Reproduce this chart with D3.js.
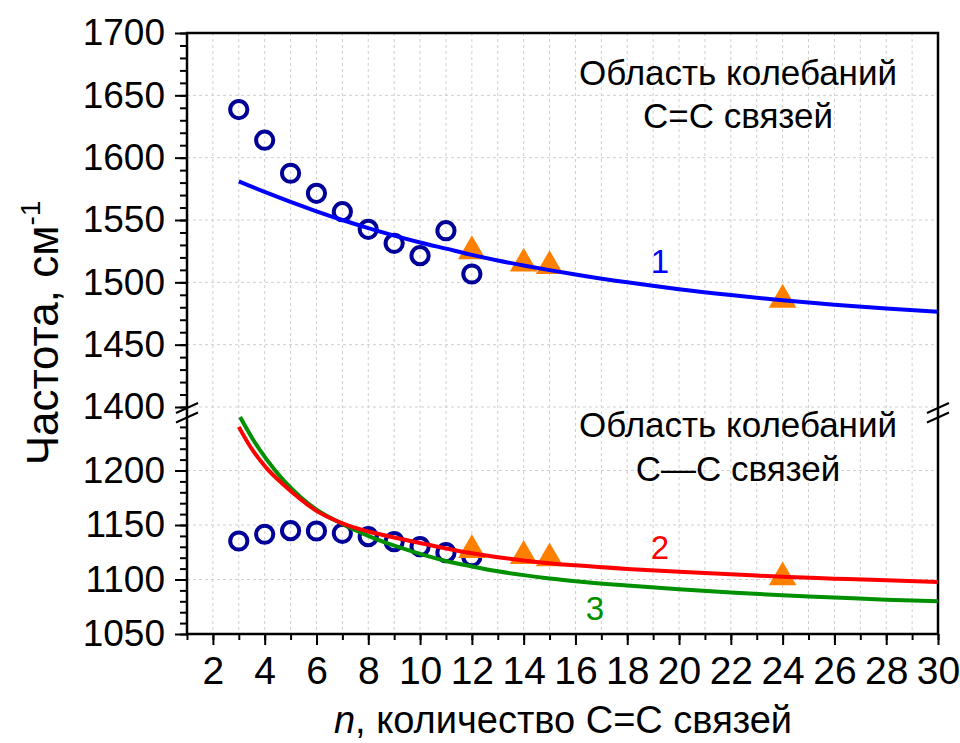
<!DOCTYPE html>
<html>
<head>
<meta charset="utf-8">
<script src="https://cdn.jsdelivr.net/npm/d3@7/dist/d3.min.js"></script>
<style>
  body { margin: 0; background: #fff; }
  svg text { font-family: "Liberation Sans", Arial, sans-serif; fill: #000; }
</style>
</head>
<body>
<svg id="chart" width="960" height="743"></svg>
<script>
'use strict';

// measured points: n = number of C=C bonds
var nObs = [3, 4, 5, 6, 7, 8, 9, 10, 11, 12];
var ccDoubleObs = [1638.6, 1614, 1587.5, 1571.4, 1556.7, 1542.5, 1531.3, 1521.4, 1541.4, 1506.7];
var ccSingleObs = [1135.3, 1141.5, 1144.8, 1144.5, 1142.4, 1139.3, 1134.7, 1130.1, 1124.6, 1120.9];

// reference points (triangles)
var nRef = [12, 14, 15, 24];
var ccDoubleRef = [1525, 1515, 1513, 1486];
var ccSingleRef = [1127, 1121.6, 1119.4, 1102];

// curve 1 (C=C region)
var nCurve1 = [3, 4, 5, 6, 7, 8, 9, 10, 11, 12, 13, 14, 15, 16, 18, 20, 22, 24, 26, 28, 30];
var curve1 = [1581, 1572.5, 1564.5, 1557, 1550, 1543.5, 1537.5, 1532, 1527, 1522, 1517.5, 1513.5,
  1509.8, 1506.3, 1500, 1494.5, 1489.8, 1485.6, 1482, 1479, 1476.3];

// curves 2 and 3 (C-C region)
var nCurve2 = [3, 3.44, 4.08, 4.73, 5.37, 6, 6.66, 7, 8, 9, 10, 11, 12, 13, 14, 15, 16, 18, 20,
  22, 24, 26, 28, 30];
var curve2 = [1240, 1222, 1202, 1187, 1174, 1163, 1155, 1151.5, 1144, 1138.5, 1133.5, 1128.5,
  1124, 1120.5, 1117.5, 1115, 1113, 1109.7, 1107, 1104.8, 1102.5, 1100.8, 1099.2, 1097.8];
var nCurve3 = [3.05, 3.56, 4.08, 4.73, 5.37, 6, 7, 8, 9, 10, 11, 12, 13, 14, 15, 16, 18, 20, 22,
  24, 26, 28, 30];
var curve3 = [1249, 1228, 1210, 1191, 1176, 1164, 1151, 1140, 1131, 1123.5, 1117, 1112, 1107.5,
  1104, 1101, 1098.5, 1094.5, 1091, 1088, 1085.5, 1083.5, 1081.5, 1080];

var xTicks = d3.range(2, 31, 2);
var yTicksUpper = d3.range(1400, 1701, 50);
var yTicksLower = d3.range(1050, 1201, 50);

var svg = d3.select('#chart');

var left = 187, right = 938;
var x = d3.scaleLinear().domain([1, 30]).range([left, right]);
var yUp = d3.scaleLinear().domain([1400, 1700]).range([407, 33]);
var yLow = d3.scaleLinear().domain([1050, 1250]).range([634, 416]);

var BLUE_DARK = '#000099', ORANGE = '#ff8000';

// clip paths for the two panels
var defs = svg.append('defs');
defs.append('clipPath').attr('id', 'clipUp').append('rect')
  .attr('x', left).attr('y', yUp(1700)).attr('width', right - left).attr('height', yUp(1400) - yUp(1700));
defs.append('clipPath').attr('id', 'clipLow').append('rect')
  .attr('x', left).attr('y', yLow(1250)).attr('width', right - left).attr('height', yLow(1050) - yLow(1250));

// grid
var grid = svg.append('g').attr('class', 'grid')
  .attr('stroke', '#cfcfcf').attr('stroke-width', 1).attr('stroke-dasharray', '3,3');
grid.selectAll('line.v').data(d3.range(2, 30)).enter().append('line')
  .attr('x1', function(d) { return x(d); }).attr('x2', function(d) { return x(d); })
  .attr('y1', yUp(1700)).attr('y2', yLow(1050));
grid.selectAll('line.hu').data(yTicksUpper.slice(0, -1)).enter().append('line')
  .attr('x1', left).attr('x2', right)
  .attr('y1', function(d) { return yUp(d); }).attr('y2', function(d) { return yUp(d); });
grid.selectAll('line.hl').data(yTicksLower.slice(1)).enter().append('line')
  .attr('x1', left).attr('x2', right)
  .attr('y1', function(d) { return yLow(d); }).attr('y2', function(d) { return yLow(d); });

// axes
function styleAxis(size) {
  return function(g) {
    g.select('.domain').remove();
    g.selectAll('line').attr('stroke', '#000').attr('stroke-width', 2);
    g.selectAll('text').attr('font-size', size).attr('fill', '#000')
      .style('font-family', '"Liberation Sans", Arial, sans-serif');
  };
}

svg.append('g').attr('transform', 'translate(0,' + yLow(1050) + ')')
  .call(d3.axisBottom(x).tickValues(d3.range(1, 31)).tickSize(6).tickFormat(''))
  .call(styleAxis(39));
svg.append('g').attr('transform', 'translate(0,' + yLow(1050) + ')')
  .call(d3.axisBottom(x).tickValues(xTicks).tickSize(11).tickPadding(11).tickFormat(d3.format('d')))
  .call(styleAxis(39));

svg.append('g').attr('transform', 'translate(' + left + ',0)')
  .call(d3.axisLeft(yUp).tickValues(d3.range(1400, 1701, 10)).tickSize(7).tickFormat(''))
  .call(styleAxis(37));
svg.append('g').attr('transform', 'translate(' + left + ',0)')
  .call(d3.axisLeft(yUp).tickValues(yTicksUpper).tickSize(12).tickPadding(10).tickFormat(d3.format('d')))
  .call(styleAxis(37));
svg.append('g').attr('transform', 'translate(' + left + ',0)')
  .call(d3.axisLeft(yLow).tickValues(d3.range(1050, 1241, 10)).tickSize(7).tickFormat(''))
  .call(styleAxis(37));
svg.append('g').attr('transform', 'translate(' + left + ',0)')
  .call(d3.axisLeft(yLow).tickValues(yTicksLower).tickSize(12).tickPadding(10).tickFormat(d3.format('d')))
  .call(styleAxis(37));

// frame
svg.append('rect')
  .attr('x', left).attr('y', yUp(1700))
  .attr('width', right - left).attr('height', yLow(1050) - yUp(1700))
  .attr('fill', 'none').attr('stroke', '#000').attr('stroke-width', 2.5);

// axis break marks
[left, right].forEach(function(bx) {
  [0, 9.5].forEach(function(off) {
    svg.append('line')
      .attr('x1', bx - 11).attr('y1', 413 + off)
      .attr('x2', bx + 11).attr('y2', 403 + off)
      .attr('stroke', '#000').attr('stroke-width', 2);
  });
});

// data layers
var upper = svg.append('g').attr('clip-path', 'url(#clipUp)');
var lower = svg.append('g').attr('clip-path', 'url(#clipLow)');

function drawCircles(g, xs, ys, yScale) {
  g.selectAll(null).data(xs).enter().append('circle')
    .attr('cx', function(d) { return x(d); })
    .attr('cy', function(d, i) { return yScale(ys[i]); })
    .attr('r', 8.6)
    .attr('fill', 'none').attr('stroke', BLUE_DARK).attr('stroke-width', 4);
}

function drawTriangles(g, xs, ys, yScale) {
  var sym = d3.symbol().type(d3.symbolTriangle).size(330);
  g.selectAll(null).data(xs).enter().append('path')
    .attr('d', sym)
    .attr('transform', function(d, i) { return 'translate(' + x(d) + ',' + yScale(ys[i]) + ')'; })
    .attr('fill', ORANGE);
}

function drawCurve(g, xs, ys, yScale, color) {
  var line = d3.line()
    .x(function(d) { return x(d[0]); })
    .y(function(d) { return yScale(d[1]); })
    .curve(d3.curveMonotoneX);
  g.append('path')
    .datum(xs.map(function(d, i) { return [d, ys[i]]; }))
    .attr('d', line)
    .attr('fill', 'none').attr('stroke', color).attr('stroke-width', 4);
}

drawCircles(upper, nObs, ccDoubleObs, yUp);
drawTriangles(upper, nRef, ccDoubleRef, yUp);
drawCurve(upper, nCurve1, curve1, yUp, '#0000ff');

drawCircles(lower, nObs, ccSingleObs, yLow);
drawTriangles(lower, nRef, ccSingleRef, yLow);
drawCurve(lower, nCurve3, curve3, yLow, '#009000');
drawCurve(lower, nCurve2, curve2, yLow, '#ff0000');

// region notes
function note(lines, cx, y0, step) {
  lines.forEach(function(t, i) {
    svg.append('text')
      .attr('x', cx).attr('y', y0 + i * step)
      .attr('text-anchor', 'middle').attr('font-size', 35)
      .text(t);
  });
}
note(['Область колебаний', 'C=C связей'], 738, 85, 43);
note(['Область колебаний', 'C\u2014C связей'], 738, 437, 44);

// curve numbers
[['1', 660, 273, '#0000ff'], ['2', 660, 559, '#ff0000'], ['3', 595, 620, '#009000']].forEach(function(l) {
  svg.append('text').attr('x', l[1]).attr('y', l[2])
    .attr('text-anchor', 'middle').attr('font-size', 33)
    .style('fill', l[3]).text(l[0]);
});

// axis titles
var yTitle = svg.append('text')
  .attr('transform', 'translate(58,333) rotate(-90)')
  .attr('text-anchor', 'middle').attr('font-size', 44);
yTitle.append('tspan').text('Частота, см');
yTitle.append('tspan').attr('font-size', 28).attr('dy', -18).text('-1');

var xTitle = svg.append('text')
  .attr('x', 563).attr('y', 733)
  .attr('text-anchor', 'middle').attr('font-size', 38);
xTitle.append('tspan').attr('font-style', 'italic').text('n');
xTitle.append('tspan').text(', количество C=C связей');
</script>
</body>
</html>
